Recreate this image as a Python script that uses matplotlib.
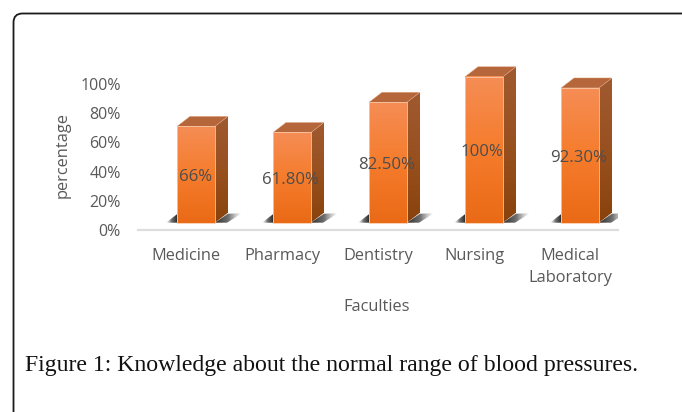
import numpy as np
import matplotlib
matplotlib.use('Agg')
import matplotlib.pyplot as plt
from matplotlib.colors import LinearSegmentedColormap
from matplotlib.patches import Polygon, FancyBboxPatch

categories = ['Medicine', 'Pharmacy', 'Dentistry', 'Nursing', 'Medical\nLaboratory']
values = [66, 61.8, 82.5, 100, 92.3]
value_labels = ['66%', '61.80%', '82.50%', '100%', '92.30%']
y_ticks = [0, 20, 40, 60, 80, 100]
y_tick_labels = ['0%', '20%', '40%', '60%', '80%', '100%']

W, H = 682, 412
TXT = '#595959'
fig = plt.figure(figsize=(W / 100, H / 100), dpi=100)
bg = fig.add_axes([0, 0, 1, 1])
bg.set_xlim(0, W); bg.set_ylim(H, 0); bg.axis('off')
bg.add_patch(FancyBboxPatch((13.5, 13.5), 700, 500, boxstyle='round,pad=0,rounding_size=9',
                            fc='white', ec='#1a1a1a', lw=1.3))
bg.text(25, 365, 'Figure 1: Knowledge about the normal range of blood pressures.',
        family='Liberation Serif', fontsize=17.1, color='#111111', va='center', ha='left')

ax = fig.add_axes([138 / W, (H - 230) / H, 480 / W, 146 / H])
ax.set_xlim(-0.5, 4.5); ax.set_ylim(0, 100)
ax.patch.set_alpha(0)
for s in ['top', 'left', 'right']:
    ax.spines[s].set_visible(False)
ax.spines['bottom'].set_color('#dddddd'); ax.spines['bottom'].set_linewidth(1.6)
ax.tick_params(length=0)
ax.set_yticks(y_ticks, y_tick_labels, family='Open Sans', fontsize=11.5, color=TXT)
ax.tick_params(axis='y', pad=12.5)
ax.set_xticks(range(len(categories)), categories, family='Open Sans', fontsize=11.8, color=TXT,
              linespacing=1.48)
ax.tick_params(axis='x', pad=13)
ax.set_ylabel('percentage', family='Open Sans', fontsize=11.8, color=TXT)
ax.yaxis.set_label_coords((71 - 138) / 480, 0.5 + 2.5 / 146)
fig.text(377 / W, 1 - 307 / H, 'Faculties', family='Open Sans', fontsize=11.8, color=TXT,
         ha='center', va='center')

ux = 96.0          # px per category
uy = 1.46          # px per percent
BASE = 5.0         # floor offset of the 3-D bars, in percent
SHIFT = 10 / ux    # bars sit right of the label centre
BW = 38 / ux       # front face width
DX, DY = 13 / ux, 10 / uy  # depth of the 3-D extrusion

front = LinearSegmentedColormap.from_list('f', ['#f58d55', '#f57c2c', '#ea6a16'])
side = LinearSegmentedColormap.from_list('s', ['#a05a30', '#98501f', '#8a420c'])
grad = np.linspace(0, 1, 128).reshape(-1, 1)
shade = LinearSegmentedColormap.from_list('sh', [(0.18, 0.18, 0.18, 1.0), (0.25, 0.25, 0.25, 0.75),
                                                 (0.5, 0.5, 0.5, 0.0)])


def shadow(pts, reverse):
    g = np.linspace(0, 1, 64).reshape(1, -1)
    if reverse:
        g = g[:, ::-1]
    xs = [p[0] for p in pts]; ys = [p[1] for p in pts]
    im = ax.imshow(g, extent=[min(xs), max(xs), min(ys), max(ys)], cmap=shade, aspect='auto', zorder=1)
    poly = Polygon(pts, fc='none', ec='none')
    ax.add_patch(poly)
    im.set_clip_path(poly)


for i, v in enumerate(values):
    x0 = i + SHIFT - BW / 2
    x1 = x0 + BW
    y0 = BASE
    y1 = BASE + v
    # floor shadows
    shadow([(x1, y0), (x1 + DX, y0 + DY * 0.9), (x1 + 27 / ux, y0 + DY * 0.95), (x1 + 12 / ux, y0)], False)
    shadow([(x0 - 11 / ux, y0), (x0, y0 + DY * 0.85), (x0, y0)], True)
    # side face
    im = ax.imshow(grad, extent=[x1, x1 + DX, y0, y1 + DY], cmap=side, aspect='auto', zorder=3)
    p = Polygon([(x1, y0), (x1 + DX, y0 + DY), (x1 + DX, y1 + DY), (x1, y1)], fc='none', ec='none',
                clip_on=False)
    ax.add_patch(p)
    im.set_clip_box(fig.bbox)
    im.set_clip_path(p)
    # top face
    ax.add_patch(Polygon([(x0, y1), (x1, y1), (x1 + DX, y1 + DY), (x0 + DX, y1 + DY)],
                         fc='#b5663a', ec='#e8b090', lw=0.3, zorder=3, clip_on=False))
    # front face
    fim = ax.imshow(grad, extent=[x0, x1, y0, y1], cmap=front, aspect='auto', zorder=4)
    fim.set_clip_on(False)
    ax.add_patch(Polygon([(x0, y0), (x1, y0), (x1, y1), (x0, y1)], fc='none', ec='#f7c9a8', lw=0.6,
                         zorder=5, clip_on=False))
    ax.text(i + SHIFT - (0.02 if i else 0), BASE + v / 2 - 1.8, value_labels[i], family='Open Sans',
            fontsize=12.1, color='#4d4d4d', ha='center', va='center', zorder=6)

ax.set_xlim(-0.5, 4.5); ax.set_ylim(0, 100)
fig.savefig('out.png', dpi=100)
